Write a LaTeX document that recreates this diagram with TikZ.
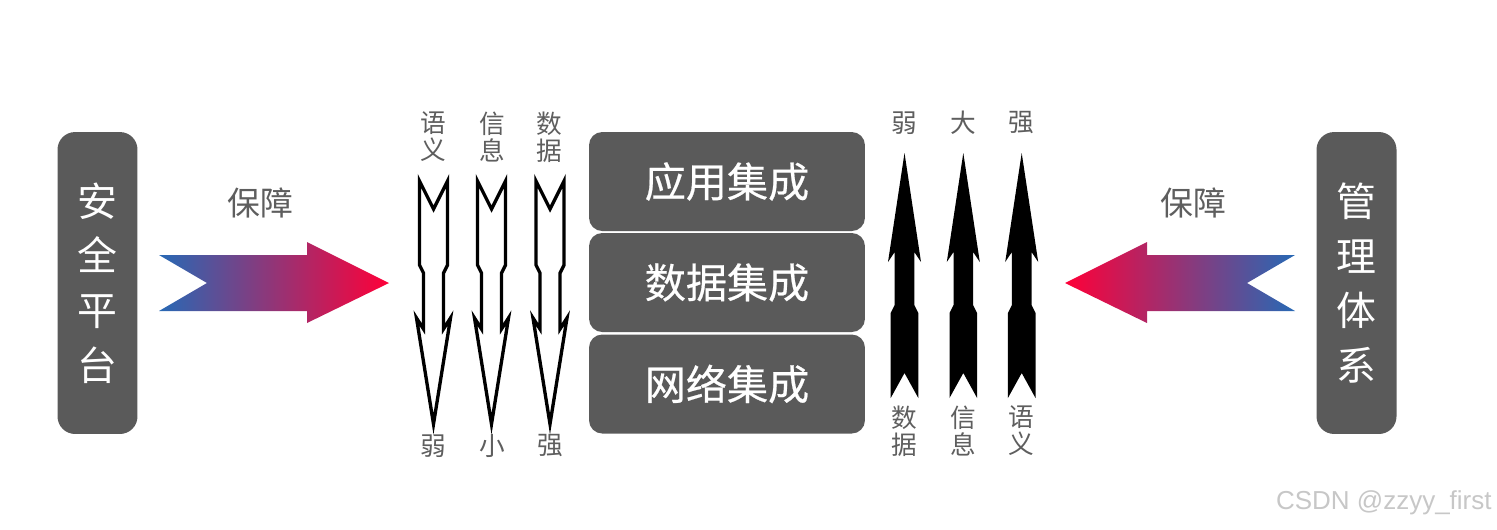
\documentclass[tikz,border=0pt]{standalone}
\usepackage{fontspec}
\newfontfamily\cjk{Noto Sans CJK SC}
\newfontfamily\cjkb{Noto Sans CJK SC}[FakeBold=0.5]
\newfontfamily\wmfont{Liberation Sans}
\definecolor{boxgray}{HTML}{5A5A5A}
\definecolor{labgray}{HTML}{5E5E5E}
\definecolor{arrblue}{HTML}{2769B5}
\definecolor{arrred}{HTML}{FF0038}
\begin{document}
\begin{tikzpicture}[x=0.02cm,y=-0.02cm,
  box/.style={fill=boxgray, draw=none, rounded corners=7.5pt, text=white, inner sep=0pt},
  midbox/.style={box, minimum width=5.52cm, minimum height=1.98cm, font={\cjkb\fontsize{23.4}{28}\selectfont}},
  sidebox/.style={box, rounded corners=10pt, minimum width=1.6cm, minimum height=6.04cm, align=center, font={\cjk\fontsize{22.7}{31.2}\selectfont}},
  lab/.style={text=labgray, inner sep=0pt, align=center, font={\cjk\fontsize{14.6}{15.3}\selectfont}},
  baozhang/.style={text=labgray, inner sep=0pt, font={\cjk\fontsize{18.7}{22}\selectfont}},
  outarrow/.style={draw=black, line width=1.9pt, line join=miter, fill=white},
  solidarrow/.style={fill=black, draw=none}
]
\useasboundingbox (0,0) rectangle (1497,529);

% side boxes
\node[sidebox] (safe) at (97.5,283) {安\\全\\平\\台};
\node[sidebox] (mgmt) at (1356.5,283) {管\\理\\体\\系};

% middle boxes
\node[midbox] (app) at (727,181.5) {应用集成};
\node[midbox] (data) at (727,282.5) {数据集成};
\node[midbox] (net) at (727,384) {网络集成};

% gradient arrows
\shade[left color=arrblue, right color=arrred]
  (159,255) -- (307,255) -- (307,242) -- (389,283) -- (307,323) -- (307,311) -- (159,311) -- (207,283) -- cycle;
\shade[left color=arrred, right color=arrblue]
  (1295,255) -- (1147,255) -- (1147,242) -- (1065,283) -- (1147,323) -- (1147,311) -- (1295,311) -- (1247,283) -- cycle;
\node[baozhang] (bz1) at (260,203) {保障};
\node[baozhang] (bz2) at (1193,203) {保障};

% outlined downward arrows
\foreach \cx in {433.5,491.5,550} {
  \draw[outarrow] (\cx-14,181) -- (\cx,209) -- (\cx+14,181) -- (\cx+14,265) -- (\cx+10,273)
    -- (\cx+10,329) -- (\cx+17,318) -- (\cx,424) -- (\cx-17,318) -- (\cx-10,329)
    -- (\cx-10,273) -- (\cx-14,265) -- cycle;
}
\node[lab] (l1t) at (433.5,137) {语\\义};
\node[lab] (l2t) at (492,137) {信\\息};
\node[lab] (l3t) at (549.5,137) {数\\据};
\node[lab] (l1b) at (433.5,446) {弱};
\node[lab] (l2b) at (492,446) {小};
\node[lab] (l3b) at (550,446) {强};

% solid upward arrows
\foreach \cx in {904.5,963.3,1021.7} {
  \fill[solidarrow] (\cx,153) -- (\cx+16.5,262) -- (\cx+9.8,252) -- (\cx+9.8,305) -- (\cx+13.8,313)
    -- (\cx+13.8,398) -- (\cx,373) -- (\cx-13.8,398) -- (\cx-13.8,313) -- (\cx-9.8,305)
    -- (\cx-9.8,252) -- (\cx-16.5,262) -- cycle;
}
\node[lab] (r1t) at (904.5,123) {弱};
\node[lab] (r2t) at (963.3,123) {大};
\node[lab] (r3t) at (1021.7,123) {强};
\node[lab] (r1b) at (904.5,431) {数\\据};
\node[lab] (r2b) at (963.3,431) {信\\息};
\node[lab] (r3b) at (1021.7,431) {语\\义};

% watermark
\node[anchor=east, inner sep=0pt, text=black!22, font={\wmfont\fontsize{14.8}{16}\selectfont}] (wm) at (1492,503) {CSDN @zzyy\_first};
\end{tikzpicture}
\end{document}
